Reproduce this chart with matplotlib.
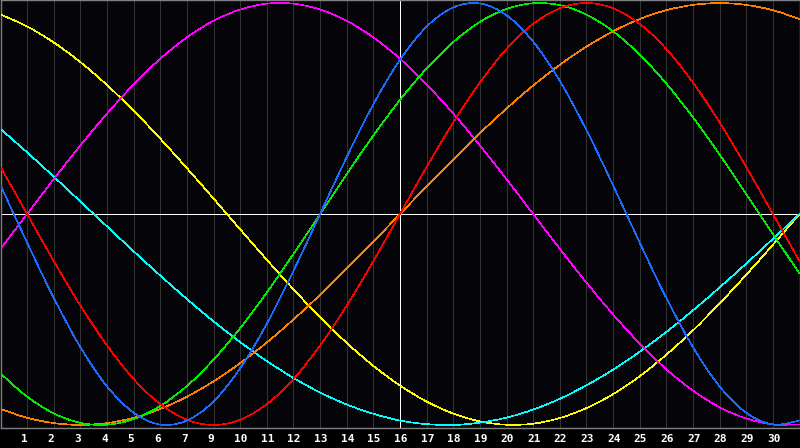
import numpy as np
import matplotlib
matplotlib.use("Agg")
import matplotlib.pyplot as plt
from matplotlib.path import Path
from matplotlib.patches import PathPatch
from matplotlib.transforms import offset_copy

# day index across the chart (0 = left edge, 30 = right edge)
days = np.arange(31)

# tick labels under the grid lines 1..29 (the chart skips 8)
day_labels = ['1', '2', '3', '4', '5', '6', '7', '9', '10', '11', '12', '13', '14', '15',
              '16', '17', '18', '19', '20', '21', '22', '23', '24', '25', '26', '27', '28',
              '29', '30']

# cycle values, one per day (-1 .. 1)
blue = [0.136, -0.136, -0.398, -0.631, -0.817, -0.942, -0.998, -0.979, -0.888, -0.731, -0.520,
        -0.270, 0.000, 0.270, 0.520, 0.731, 0.888, 0.979, 0.998, 0.942, 0.817, 0.631, 0.398,
        0.136, -0.136, -0.398, -0.631, -0.817, -0.942, -0.998, -0.979]
red = [0.223, 0.000, -0.223, -0.434, -0.623, -0.782, -0.901, -0.975, -1.000, -0.975, -0.901,
       -0.782, -0.623, -0.434, -0.223, 0.000, 0.223, 0.434, 0.623, 0.782, 0.901, 0.975, 1.000,
       0.975, 0.901, 0.782, 0.623, 0.434, 0.223, 0.000, -0.223]
green = [-0.756, -0.866, -0.945, -0.990, -0.999, -0.972, -0.910, -0.815, -0.690, -0.541, -0.372,
         -0.189, 0.000, 0.189, 0.372, 0.541, 0.690, 0.815, 0.910, 0.972, 0.999, 0.990, 0.945,
         0.866, 0.756, 0.618, 0.458, 0.282, 0.095, -0.095, -0.282]
magenta = [-0.165, 0.000, 0.165, 0.325, 0.476, 0.614, 0.736, 0.837, 0.916, 0.969, 0.997, 0.997,
           0.969, 0.916, 0.837, 0.736, 0.614, 0.476, 0.325, 0.165, 0.000, -0.165, -0.325,
           -0.476, -0.614, -0.736, -0.837, -0.916, -0.969, -0.997, -0.997]
yellow = [0.946, 0.889, 0.813, 0.720, 0.611, 0.489, 0.357, 0.217, 0.073, -0.073, -0.217, -0.357,
          -0.489, -0.611, -0.720, -0.813, -0.889, -0.946, -0.983, -0.999, -0.994, -0.967,
          -0.920, -0.854, -0.769, -0.667, -0.552, -0.424, -0.288, -0.146, 0.000]
orange = [-0.924, -0.966, -0.991, -1.000, -0.991, -0.966, -0.924, -0.866, -0.793, -0.707, -0.609,
          -0.500, -0.383, -0.259, -0.131, 0.000, 0.131, 0.259, 0.383, 0.500, 0.609, 0.707,
          0.793, 0.866, 0.924, 0.966, 0.991, 1.000, 0.991, 0.966, 0.924]
cyan = [0.403, 0.292, 0.177, 0.059, -0.059, -0.177, -0.292, -0.403, -0.509, -0.607, -0.697,
        -0.777, -0.846, -0.903, -0.947, -0.979, -0.996, -1.000, -0.989, -0.965, -0.927, -0.876,
        -0.812, -0.738, -0.653, -0.559, -0.457, -0.348, -0.235, -0.118, 0.000]


def smooth_line(ax, x, y, color):
    # smooth curve through the day points (catmull-rom as bezier segments)
    n = len(x)
    verts = [(x[0], y[0])]
    codes = [Path.MOVETO]
    for i in range(n - 1):
        a = max(i - 1, 0)
        b = min(i + 2, n - 1)
        c1 = (x[i] + (x[i + 1] - x[a]) / 6, y[i] + (y[i + 1] - y[a]) / 6)
        c2 = (x[i + 1] - (x[b] - x[i]) / 6, y[i + 1] - (y[b] - y[i]) / 6)
        verts += [c1, c2, (x[i + 1], y[i + 1])]
        codes += [Path.CURVE4] * 3
    ax.add_patch(PathPatch(Path(verts, codes), fill=False, edgecolor=color, lw=0.45,
                           antialiased=False, zorder=3))


fig = plt.figure(figsize=(8, 4.48), dpi=100, facecolor='black')
ax = fig.add_axes([0.5 / 800, 20.5 / 448, 799 / 800, 427 / 448])
ax.set_facecolor('#050408')

# grid
for d in range(1, 30):
    ax.axvline(d, color='#333333', lw=0.7, antialiased=False, zorder=1)
ax.axvline(15, color='white', lw=0.7, antialiased=False, zorder=2)
ax.axhline(0, color='white', lw=0.7, antialiased=False, zorder=2)

smooth_line(ax, days, yellow, '#ffff00')
smooth_line(ax, days, cyan, '#00ffff')
smooth_line(ax, days, magenta, '#ff00ff')
smooth_line(ax, days, orange, '#ff8000')
smooth_line(ax, days, green, '#00ee00')
smooth_line(ax, days, red, '#ff0000')
smooth_line(ax, days, blue, '#1a6cff')

ax.set_xlim(0, 30)
ax.set_ylim(-1.012, 1.012)
ax.set_xticks([])
ax.set_yticks([])
for s in ax.spines.values():
    s.set_color('#808080')
    s.set_linewidth(1.0)

trans = offset_copy(ax.get_xaxis_transform(), fig=fig, x=-6, y=0, units='dots')
for i, lab in enumerate(day_labels):
    ax.text(i + 1, -0.027, lab, transform=trans, ha='left', va='center',
            color='white', fontsize=8, fontweight='bold', family='DejaVu Sans Mono',
            clip_on=False)

fig.savefig('out.png', facecolor='black')
